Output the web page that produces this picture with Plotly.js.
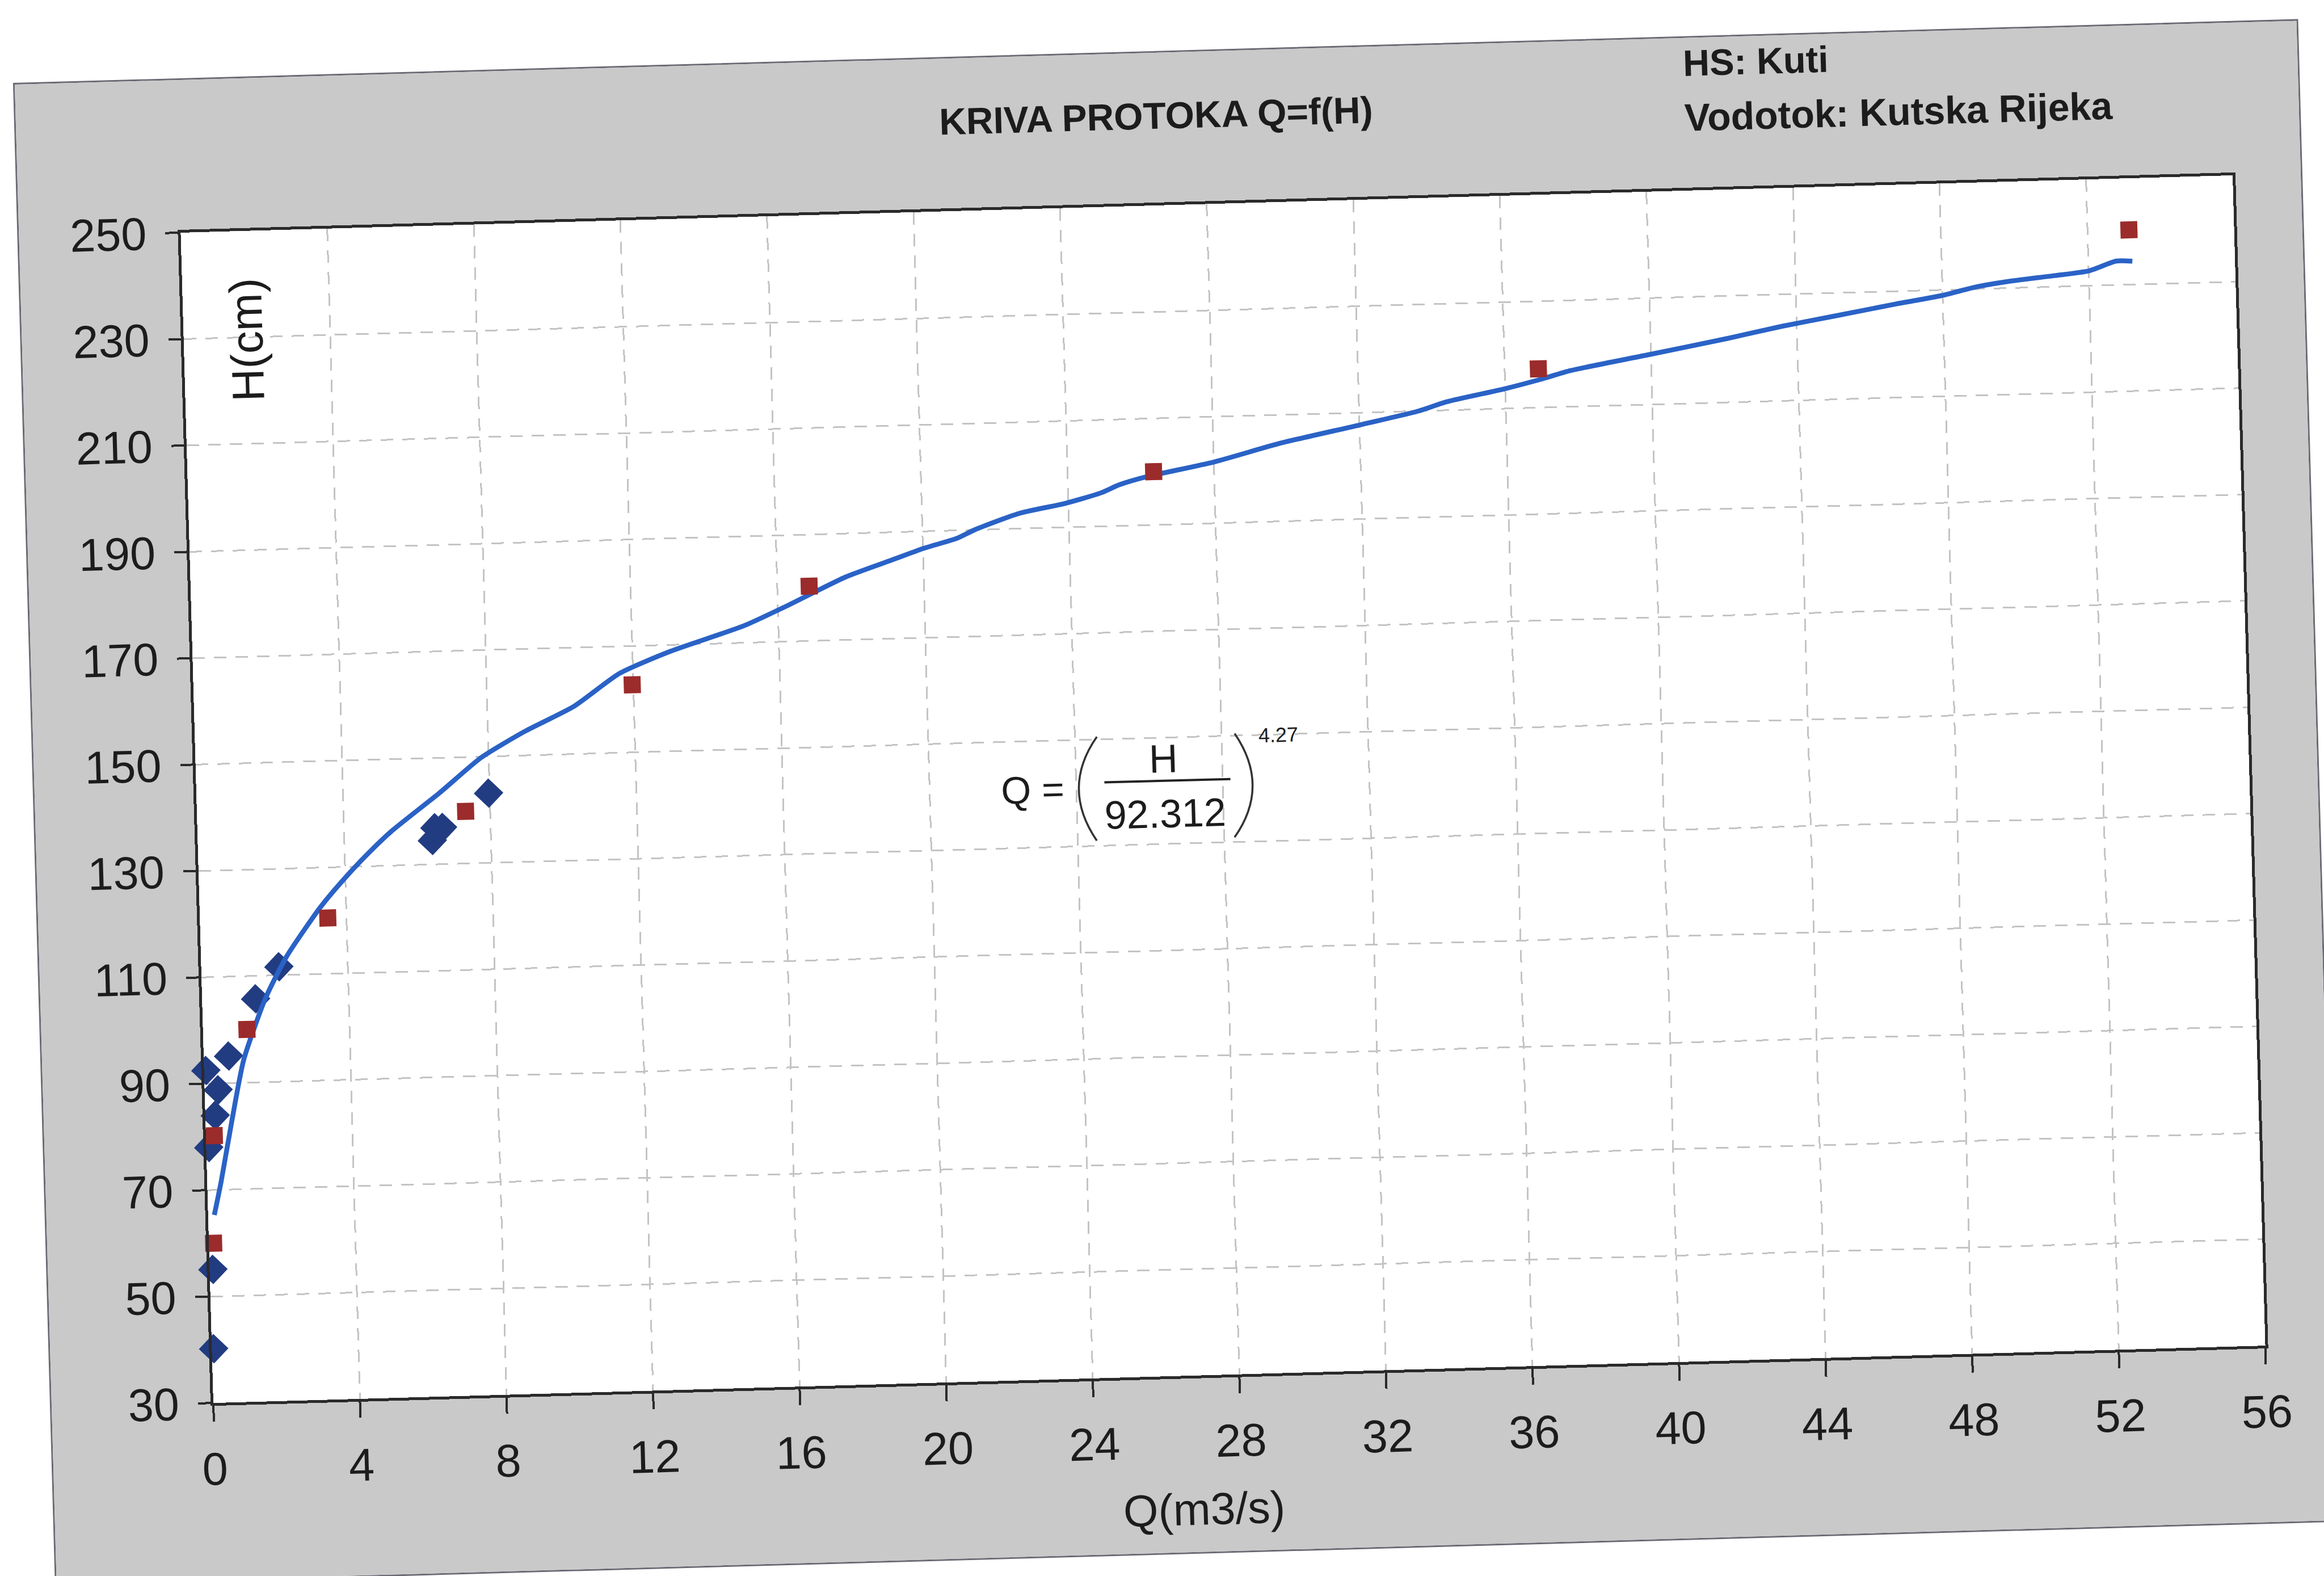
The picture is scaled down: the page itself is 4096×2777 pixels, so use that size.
<!DOCTYPE html>
<html>
<head>
<meta charset="utf-8">
<script src="https://cdn.plot.ly/plotly-3.0.1.min.js"></script>
<style>
  html, body { margin:0; padding:0; background:#ffffff; width:4096px; height:2777px; overflow:hidden; }
  #chart {
    position:absolute; left:26px; top:149px; width:4023px; height:2643px;
    transform-origin:0 0; transform:rotate(-1.6deg);
    outline:3px solid #6a6a74;
  }
</style>
</head>
<body>
<div id="chart"></div>
<script>
// ---- data ----
// rating curve line Q (m3/s) vs H (cm)
const curveQ = [0.17,0.38,0.72,1.09,1.72,2.34,3.29,4.0,4.7,5.30,6.63,7.79,9.0,10.35,11.63,13.04,15.06,16.21,17.86,19.11,20.02,20.93,21.42,22.67,23.91,24.9,25.4,26.1,28.0,29.84,31.94,33.62,34.4,35.97,36.97,37.80,39.88,42.09,43.59,44.99,46.72,47.94,48.93,49.74,51.07,52.0,52.76,53.2];
const curveH = [65.3,71.5,82.9,94.3,105.6,113.5,122.5,128.0,132.8,136.5,143.4,149.8,154.5,158.9,164.9,168.8,173.2,176.6,181.8,184.7,186.8,188.5,190.0,192.9,194.5,196.3,197.7,199.0,201.5,204.7,207.6,210.0,211.6,213.7,215.3,216.8,219.3,222.0,224.0,225.6,227.6,228.9,230.4,231.2,232.1,232.8,234.5,234.4];
// measured points (blue diamonds)
const measQ = [0.05,0.09,0.07,0.27,0.37,0.05,0.68,1.46,2.12,6.40,6.48,6.69,7.97];
const measH = [40.2,55.1,78.0,84.0,88.8,92.5,95.1,105.7,111.6,134.5,136.9,136.9,143.1];
// computed points (red squares)
const calcQ = [0.13,0.23,1.20,3.49,7.33,11.97,16.87,26.35,36.92,53.13];
const calcH = [60.0,80.2,100.0,120.5,139.8,162.7,180.3,200.0,217.3,240.3];
// axis ticks
const xTicks = [0,4,8,12,16,20,24,28,32,36,40,44,48,52,56];
const yTicks = [30,50,70,90,110,130,150,170,190,210,230,250];
// texts
const chartTitle = 'KRIVA PROTOKA Q=f(H)';
const stationText = 'HS: Kuti';
const riverText = 'Vodotok: Kutska Rijeka';
const xTitle = 'Q(m3/s)';
const yTitle = 'H(cm)';
const eqNumerator = 'H';
const eqDenominator = '92.312';
const eqExponent = '4.27';

const FONT = 'Liberation Sans, Arial, sans-serif';
const TXT = '#1c1c1c';

const traces = [
  {
    x: measQ, y: measH, type: 'scatter', mode: 'markers', cliponaxis: false,
    marker: { symbol: 'diamond', size: 40, color: '#223c82', line: { width: 0 } },
    showlegend: false
  },
  {
    x: curveQ, y: curveH, type: 'scatter', mode: 'lines', cliponaxis: false,
    line: { color: '#2a62c6', width: 8.5, shape: 'spline', smoothing: 0.6 },
    showlegend: false
  },
  {
    x: calcQ, y: calcH, type: 'scatter', mode: 'markers', cliponaxis: false,
    marker: { symbol: 'square', size: 30, color: '#9c2b2b', line: { width: 0 } },
    showlegend: false
  }
];

const layout = {
  width: 4023, height: 2643,
  margin: { l: 285, r: 120, t: 269, b: 311, pad: 0 },
  paper_bgcolor: '#c9c9c9',
  plot_bgcolor: '#ffffff',
  showlegend: false,
  title: {
    text: '<b>' + chartTitle + '</b>',
    font: { family: FONT, size: 66, color: TXT },
    x: 0.4994, xref: 'container', xanchor: 'center',
    y: 0.958, yref: 'container', yanchor: 'middle'
  },
  xaxis: {
    range: [0, 56], tickvals: xTicks, ticktext: xTicks.map(String),
    showgrid: true, gridcolor: '#c4c4c4', gridwidth: 3, griddash: '22px,16px',
    zeroline: false, showline: true, mirror: true, linecolor: '#2a2a2a', linewidth: 5,
    ticks: 'outside', ticklen: 28, tickwidth: 4, tickcolor: '#2a2a2a',
    ticklabelstandoff: 14,
    tickfont: { family: FONT, size: 81, color: TXT },
    automargin: false
  },
  yaxis: {
    range: [30, 250], tickvals: yTicks, ticktext: yTicks.map(String),
    showgrid: true, gridcolor: '#c4c4c4', gridwidth: 3, griddash: '22px,16px',
    zeroline: false, showline: true, mirror: true, linecolor: '#2a2a2a', linewidth: 5,
    ticks: 'outside', ticklen: 22, tickwidth: 4, tickcolor: '#2a2a2a',
    ticklabelstandoff: 17,
    tickfont: { family: FONT, size: 81, color: TXT },
    automargin: false
  },
  annotations: [
    { text: '<b>' + stationText + '</b>', xref: 'paper', yref: 'paper', x: 0.7333, y: 1.109,
      xanchor: 'left', yanchor: 'middle', showarrow: false, font: { family: FONT, size: 65, color: TXT } },
    { text: '<b>' + riverText + '</b>', xref: 'paper', yref: 'paper', x: 0.7333, y: 1.0625,
      xanchor: 'left', yanchor: 'middle', showarrow: false, font: { family: FONT, size: 68, color: TXT } },
    { text: xTitle, xref: 'paper', yref: 'paper', x: 0.481, y: -0.114,
      xanchor: 'center', yanchor: 'middle', showarrow: false, font: { family: FONT, size: 79, color: TXT } },
    { text: yTitle, xref: 'paper', yref: 'paper', x: 0.0308, y: 0.9072, textangle: -90,
      xanchor: 'center', yanchor: 'middle', showarrow: false, font: { family: FONT, size: 80, color: TXT } },
    { text: 'Q =', xref: 'x', yref: 'y', x: 23.72, y: 140.9, xanchor: 'right', yanchor: 'middle',
      showarrow: false, font: { family: FONT, size: 68, color: TXT } },
    { text: eqNumerator, xref: 'x', yref: 'y', x: 26.40, y: 146.0, xanchor: 'center', yanchor: 'middle',
      showarrow: false, font: { family: FONT, size: 70, color: TXT } },
    { text: eqDenominator, xref: 'x', yref: 'y', x: 26.40, y: 135.7, xanchor: 'center', yanchor: 'middle',
      showarrow: false, font: { family: FONT, size: 70, color: TXT } },
    { text: eqExponent, xref: 'x', yref: 'y', x: 29.54, y: 149.9, xanchor: 'center', yanchor: 'middle',
      showarrow: false, font: { family: FONT, size: 36, color: TXT } }
  ],
  shapes: [
    { type: 'path', xref: 'x', yref: 'y', path: 'M 24.60,150.5 Q 23.58,141.05 24.52,131.0',
      line: { color: '#333333', width: 3.5 } },
    { type: 'path', xref: 'x', yref: 'y', path: 'M 28.36,150.4 Q 29.30,140.35 28.28,130.9',
      line: { color: '#333333', width: 3.5 } },
    { type: 'line', xref: 'x', yref: 'y', x0: 24.77, y0: 141.9, x1: 28.21, y1: 141.85,
      line: { color: '#222222', width: 4 } }
  ]
};

Plotly.newPlot('chart', traces, layout, { staticPlot: true, displayModeBar: false });
</script>
</body>
</html>
